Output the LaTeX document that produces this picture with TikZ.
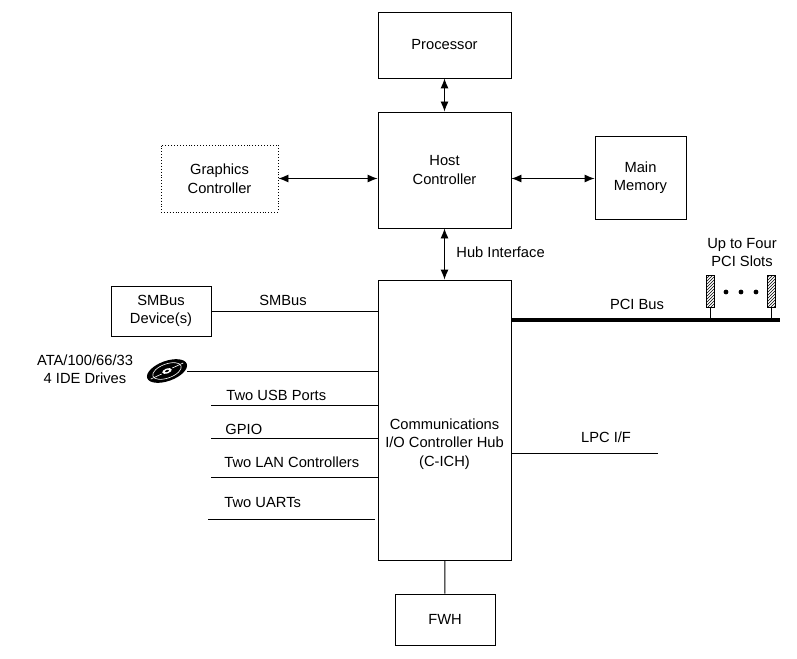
\documentclass[tikz,border=0pt]{standalone}
\usepackage{fontspec}
\setmainfont{Liberation Sans}
\usetikzlibrary{arrows.meta,patterns}
\begin{document}
\begin{tikzpicture}[x=1pt,y=-1pt,line width=0.9pt,
  font=\fontsize{14.7}{18.5}\selectfont,
  blk/.style={draw,align=center,inner sep=0pt},
  slotbox/.style={draw,line width=0.7pt,pattern=north east lines,minimum width=8pt,minimum height=32pt,inner sep=0pt},
  lbl/.style={inner sep=0pt,anchor=west},
  >={Latex[length=10pt,width=8pt]}]
\useasboundingbox (0,0) rectangle (797,658);
\node [blk,minimum width=133pt,minimum height=66pt] (proc) at (444.5,45) {Processor};
\node [blk,minimum width=133pt,minimum height=116pt] (host) at (444.5,170) {Host\\Controller};
\node [blk,minimum width=91pt,minimum height=83pt] (mem) at (640.5,177.5) {Main\\Memory};
\node [blk,dotted,minimum width=117pt,minimum height=67pt] (gfx) at (219.5,178.5) {Graphics\\Controller};
\node [blk,minimum width=100pt,minimum height=50pt] (smb) at (161,311) {SMBus\\Device(s)};
\node [blk,minimum width=133pt,minimum height=280pt] (ich) at (444.5,420) {};
\node [align=center,inner sep=0pt] (ichtxt) at (444.5,444) {Communications\\I/O Controller Hub\\(C-ICH)};
\node [blk,minimum width=100pt,minimum height=51pt] (fwh) at (445,619.5) {FWH};
%
\draw [<->] (proc) edge (host);
\draw [<->] (gfx.east) -- (gfx -| host.west);
\draw [<->] (host.east |- gfx) -- (mem.west |- gfx);
\draw [<->] (host) edge (ich);
\draw (ich) edge (fwh);
\node [lbl] (hubtxt) at (456,252) {Hub Interface};
%
\draw (smb.east) -- (smb.east -| ich.west);
\node (smbtxt) at (283,300) {SMBus};
\coordinate (disk) at (187,371);
\begin{scope}[shift={(167,371)},rotate=20]
\fill (0,0) ellipse [x radius=21, y radius=10];
\draw [white,line width=0.6pt] (0,0) ellipse [x radius=15, y radius=7];
\draw [white,line width=0.6pt] (-18,2) -- (-6,1) (6,-1) -- (18,-2);
\fill [white] (0,0) ellipse [x radius=5, y radius=2.5];
\fill (0,0) ellipse [x radius=2, y radius=1];
\end{scope}
\draw (disk) -- (disk -| ich.west);
\node [align=center,inner sep=0pt] (idetxt) at (85,369) {ATA/100/66/33\\4 IDE Drives};
%
\coordinate (usb) at (211,405);
\coordinate (gpio) at (211,438);
\coordinate (lan) at (211,477);
\coordinate (uart) at (208,519);
\draw (usb) -- (usb -| ich.west);
\draw (gpio) -- (gpio -| ich.west);
\draw (lan) -- (lan -| ich.west);
\draw (uart) -- ++(167,0);
\node [lbl] (usbtxt) at (226,395) {Two USB Ports};
\node [lbl] (gpiotxt) at (225,429) {GPIO};
\node [lbl] (lantxt) at (224,462) {Two LAN Controllers};
\node [lbl] (uarttxt) at (224,503) {Two UARTs};
%
\coordinate (lpc) at (658,453);
\draw (lpc -| ich.east) -- (lpc);
\node (lpctxt) at (606,437) {LPC I/F};
%
\coordinate (bus) at (780,320);
\draw [line width=4pt] (bus -| ich.east) -- (bus);
\node (pcitxt) at (637,304) {PCI Bus};
\node [slotbox] (slota) at (710,291.5) {};
\node [slotbox] (slotb) at (771.5,291.5) {};
\draw [line width=0.7pt] (slota) -- (slota |- bus);
\draw [line width=0.7pt] (slotb) -- (slotb |- bus);
\foreach \x in {726,741,756}
  \fill (\x,292) circle (2.4pt);
\node [align=center,inner sep=0pt] (slottxt) at (742,252.5) {Up to Four\\PCI Slots};
\end{tikzpicture}
\end{document}
